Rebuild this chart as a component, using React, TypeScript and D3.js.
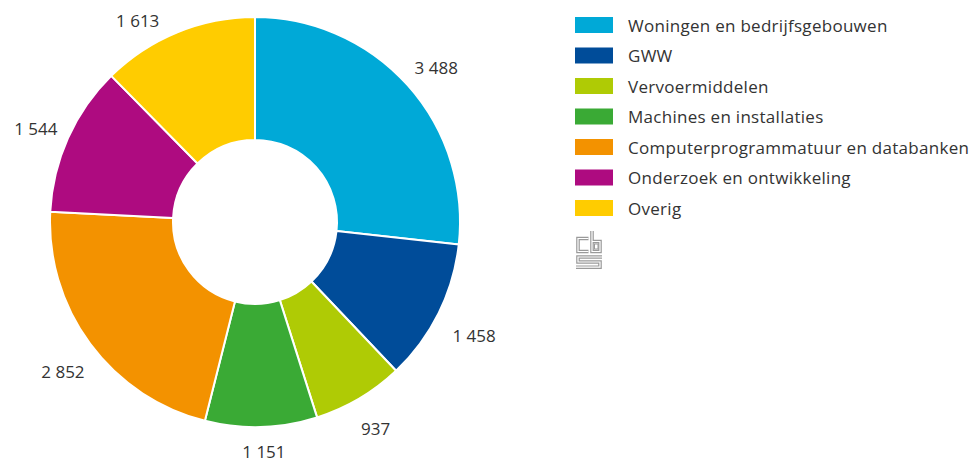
import React from "react";
import * as d3 from "d3";

const categories = [
  "Woningen en bedrijfsgebouwen",
  "GWW",
  "Vervoermiddelen",
  "Machines en installaties",
  "Computerprogrammatuur en databanken",
  "Onderzoek en ontwikkeling",
  "Overig",
];
const values = [3488, 1458, 937, 1151, 2852, 1544, 1613];
const valueLabels = ["3 488", "1 458", "937", "1 151", "2 852", "1 544", "1 613"];
const colors = ["#00a9d7", "#004c99", "#afcb05", "#3aaa35", "#f39200", "#ae0b80", "#ffcc00"];

const W = 969;
const H = 461;
const FONT = "'Open Sans', sans-serif";
const FS = 17;
const TEXT = "#333333";

function approxWidth(s: string) {
  let w = 0;
  for (const ch of s) w += ch === " " ? 4.5 : 9.6;
  return w;
}

export default function App() {
  const cx = 255;
  const cy = 222;
  const rOuter = 205;
  const rInner = 82;
  const pie = d3.pie<number>().sort(null).value((d) => d)(values);
  const arc = d3
    .arc<d3.PieArcDatum<number>>()
    .innerRadius(rInner)
    .outerRadius(rOuter);

  const labelR0 = 220;
  const halfH = 7;
  const minY = 20;
  const maxY = 451;
  const offX = 2;
  const offY = 6;

  const labelPos = pie.map((p, i) => {
    const a = (p.startAngle + p.endAngle) / 2;
    const s = Math.sin(a);
    const c = Math.cos(a);
    const w = approxWidth(valueLabels[i]);
    const rc = labelR0 + Math.abs(s) * (w / 2) + Math.abs(c) * halfH;
    let x = cx + rc * s + offX;
    let y = cy - rc * c + offY;
    if (y < minY) {
      y = minY;
      const dy = y - cy;
      const dx = Math.sqrt(Math.max(0, rc * rc - dy * dy));
      x = cx + (s < 0 ? -dx : dx) + offX;
    }
    if (y > maxY) y = maxY;
    return { x, y };
  });

  const legendX = 575;
  const legendY0 = 17;
  const legendStep = 30.5;

  return (
    <svg
      width={W}
      height={H}
      viewBox={`0 0 ${W} ${H}`}
      style={{ position: "absolute", left: 0, top: 0, display: "block", background: "#fff" }}
      fontFamily={FONT}
    >
      <g transform={`translate(${cx},${cy})`}>
        {pie.map((p, i) => (
          <path key={i} d={arc(p) || ""} fill={colors[i]} stroke="#ffffff" strokeWidth={2} strokeLinejoin="round" />
        ))}
      </g>
      {labelPos.map((lp, i) => (
        <text
          key={i}
          x={lp.x}
          y={lp.y}
          textAnchor="middle"
          dominantBaseline="central"
          fontSize={FS}
          fill={TEXT}
        >
          {valueLabels[i]}
        </text>
      ))}
      <g>
        {categories.map((c, i) => (
          <g key={c} transform={`translate(${legendX},${legendY0 + i * legendStep})`}>
            <rect x={0} y={0} width={38} height={16} fill={colors[i]} />
            <text x={53} y={8} dominantBaseline="central" fontSize={FS} letterSpacing={0.28} fill={TEXT}>
              {c}
            </text>
          </g>
        ))}
      </g>
      <g fill="none" strokeLinejoin="miter" strokeLinecap="butt">
        {[
          "M588.5 238.5 H578 V251.5 H588.5",
          "M592 231 V251.5 H600 V241.5 H592",
          "M602 257 H578 V262 H600 V267.2 H576",
        ].map((d, i) => (
          <g key={i}>
            <path d={d} stroke="#9a9a9a" strokeWidth={3.6} />
            <path d={d} stroke="#ffffff" strokeWidth={1.2} />
          </g>
        ))}
        <rect x={594.5} y={244} width={3.5} height={5} stroke="#9a9a9a" strokeWidth={1} />
      </g>
    </svg>
  );
}
